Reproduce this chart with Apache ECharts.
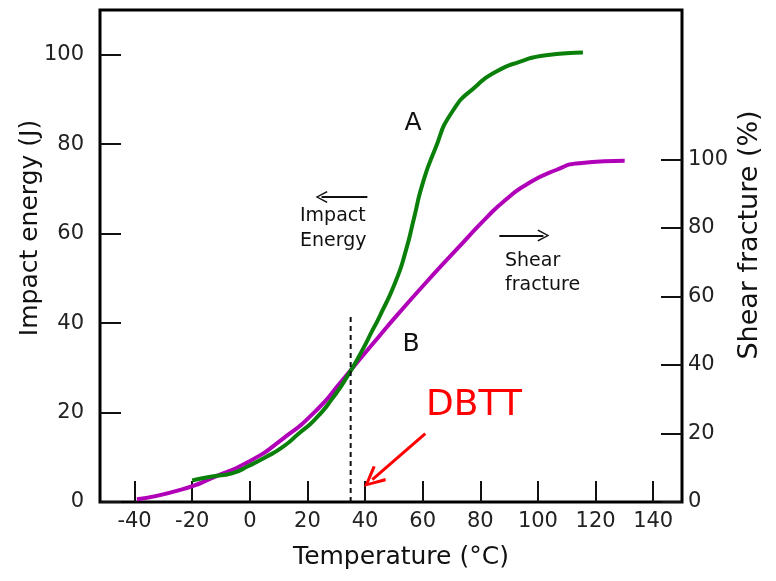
<!DOCTYPE html>
<html>
<head>
<meta charset="utf-8">
<script src="https://cdn.jsdelivr.net/npm/echarts@6/dist/echarts.min.js"></script>
<style>
html,body{margin:0;padding:0;background:#fff;}
#chart{width:776px;height:581px;}
</style>
</head>
<body>
<div id="chart"></div>
<script>
// ---- data ----
const tempTicks = [-40, -20, 0, 20, 40, 60, 80, 100, 120, 140];
const energyTicks = [0, 20, 40, 60, 80, 100];
const shearTicks = [0, 20, 40, 60, 80, 100];

// Curve A: impact energy (J) vs temperature (°C)
const curveATemp = [-20, -13.1, -6.2, -0.3, 5.4, 11.2, 17.0, 22.8, 28.6, 34.4, 39.0, 42.5, 44.9, 50.6, 54.1, 57.0, 59.9, 64.0, 70.3, 79.1, 85.4, 93.6, 102.8, 115.6];
const curveAEnergy = [4.8, 5.7, 6.4, 8.1, 10.0, 12.2, 15.3, 18.6, 23.1, 28.7, 33.9, 38.3, 41.3, 49.3, 56.1, 63.5, 71.0, 78.4, 87.3, 93.3, 96.2, 98.4, 99.9, 100.5];

// Curve B: shear fracture (%) vs temperature (°C)
const curveBTemp = [-39.2, -23.5, -12.0, -0.3, 11.2, 22.8, 32.1, 39.1, 44.9, 51.2, 61.1, 72.1, 82.5, 88.8, 95.9, 106.3, 114.4, 130.1];
const curveBShear = [0.8, 3.7, 7.4, 11.8, 18.3, 26.5, 35.5, 42.6, 48.4, 54.6, 64.0, 74.0, 83.3, 88.2, 92.6, 96.9, 98.9, 99.6];

// DBTT marker (dashed vertical line)
const dbttTemp = [35, 35];
const dbttEnergy = [0, 41.6];

// annotation arrows: [startTemp, startEnergy, endTemp, endEnergy]
const arrowImpact = [40.8, 68.2, 24.9, 68.2];
const arrowShear = [86.6, 59.6, 101.9, 59.6];
const arrowDbtt = [60.9, 15.3, 42.5, 5.0];

const FONT = 'DejaVu Sans';
const zip = (a, b) => a.map((v, i) => [v, b[i]]);

const chevronThick = 'path://M10 0 L20 19.5 L17.4 21.2 L10 6.2 L2.6 21.2 L0 19.5 Z';
const chevronThin = 'path://M6 0 L12 10.6 L10.8 11.4 L6 2.6 L1.2 11.4 L0 10.6 Z';

const chart = echarts.init(document.getElementById('chart'), null, {renderer: 'canvas'});

const tickStyle = {show: true, inside: true, length: 21, lineStyle: {color: '#111', width: 2}};
const labelStyle = {color: '#222', fontSize: 21, fontFamily: FONT};

const option = {
  animation: false,
  backgroundColor: '#fff',
  grid: {left: 100, right: 94, top: 10, bottom: 79, show: true, borderColor: '#000', borderWidth: 3, containLabel: false},
  xAxis: {
    type: 'value', min: -52, max: 150,
    axisLine: {show: false, onZero: false},
    axisTick: Object.assign({}, tickStyle, {customValues: tempTicks}),
    axisLabel: Object.assign({}, labelStyle, {margin: 9, customValues: tempTicks}),
    splitLine: {show: false}
  },
  yAxis: [
    {
      type: 'value', min: 0, max: 110, position: 'left',
      axisLine: {show: false, onZero: false},
      axisTick: Object.assign({}, tickStyle, {customValues: energyTicks}),
      axisLabel: Object.assign({}, labelStyle, {margin: 16, customValues: energyTicks}),
      splitLine: {show: false}
    },
    {
      type: 'value', min: 0, max: 143.6, position: 'right',
      axisLine: {show: false, onZero: false},
      axisTick: Object.assign({}, tickStyle, {customValues: shearTicks}),
      axisLabel: Object.assign({}, labelStyle, {margin: 6, customValues: shearTicks}),
      splitLine: {show: false}
    }
  ],
  series: [
    {
      name: 'A', type: 'line', yAxisIndex: 0, data: zip(curveATemp, curveAEnergy),
      smooth: 0.6, showSymbol: false, symbol: 'none',
      lineStyle: {color: '#0a800a', width: 4}, silent: true, z: 3
    },
    {
      name: 'B', type: 'line', yAxisIndex: 1, data: zip(curveBTemp, curveBShear),
      smooth: 0.6, showSymbol: false, symbol: 'none',
      lineStyle: {color: '#b000b8', width: 4}, silent: true, z: 2
    },
    {
      name: 'DBTT', type: 'line', yAxisIndex: 0, data: zip(dbttTemp, dbttEnergy),
      showSymbol: false, symbol: 'none', silent: true, z: 4,
      lineStyle: {color: '#111', width: 2, type: [5, 4]},
      markLine: {
        silent: true, animation: false,
        label: {show: false},
        emphasis: {disabled: true},
        data: [
          [{coord: [arrowImpact[0], arrowImpact[1]], symbol: 'none'},
           {coord: [arrowImpact[2], arrowImpact[3]], symbol: chevronThin, symbolSize: [12, 12],
            lineStyle: {color: '#111', width: 1.8, type: 'solid'}}],
          [{coord: [arrowShear[0], arrowShear[1]], symbol: 'none'},
           {coord: [arrowShear[2], arrowShear[3]], symbol: chevronThin, symbolSize: [12, 12],
            lineStyle: {color: '#111', width: 1.8, type: 'solid'}}],
          [{coord: [arrowDbtt[0], arrowDbtt[1]], symbol: 'none'},
           {coord: [arrowDbtt[2], arrowDbtt[3]], symbol: chevronThick, symbolSize: [20, 22],
            lineStyle: {color: '#ff0000', width: 3, type: 'solid'}}]
        ]
      }
    }
  ],
  graphic: [
    {type: 'text', x: 401, y: 557, silent: true,
     style: {text: 'Temperature (°C)', font: '25px "DejaVu Sans"', fill: '#111', textAlign: 'center', textVerticalAlign: 'middle'}},
    {type: 'text', x: 30, y: 228, rotation: Math.PI / 2, silent: true,
     style: {text: 'Impact energy (J)', font: '25px "DejaVu Sans"', fill: '#111', textAlign: 'center', textVerticalAlign: 'middle'}},
    {type: 'text', x: 750, y: 235, rotation: Math.PI / 2, silent: true,
     style: {text: 'Shear fracture (%)', font: '27px "DejaVu Sans"', fill: '#111', textAlign: 'center', textVerticalAlign: 'middle'}},
    {type: 'text', x: 413, y: 123, silent: true,
     style: {text: 'A', font: '25px "DejaVu Sans"', fill: '#111', textAlign: 'center', textVerticalAlign: 'middle'}},
    {type: 'text', x: 411, y: 344, silent: true,
     style: {text: 'B', font: '25px "DejaVu Sans"', fill: '#111', textAlign: 'center', textVerticalAlign: 'middle'}},
    {type: 'text', x: 474, y: 406, silent: true,
     style: {text: 'DBTT', font: '36px "DejaVu Sans"', fill: '#ff0000', textAlign: 'center', textVerticalAlign: 'middle'}},
    {type: 'text', x: 300, y: 216, silent: true,
     style: {text: 'Impact', font: '19px "DejaVu Sans"', fill: '#111', textAlign: 'left', textVerticalAlign: 'middle'}},
    {type: 'text', x: 300, y: 241, silent: true,
     style: {text: 'Energy', font: '19px "DejaVu Sans"', fill: '#111', textAlign: 'left', textVerticalAlign: 'middle'}},
    {type: 'text', x: 505, y: 261, silent: true,
     style: {text: 'Shear', font: '19px "DejaVu Sans"', fill: '#111', textAlign: 'left', textVerticalAlign: 'middle'}},
    {type: 'text', x: 505, y: 285, silent: true,
     style: {text: 'fracture', font: '19px "DejaVu Sans"', fill: '#111', textAlign: 'left', textVerticalAlign: 'middle'}}
  ]
};

chart.setOption(option);
</script>
</body>
</html>
